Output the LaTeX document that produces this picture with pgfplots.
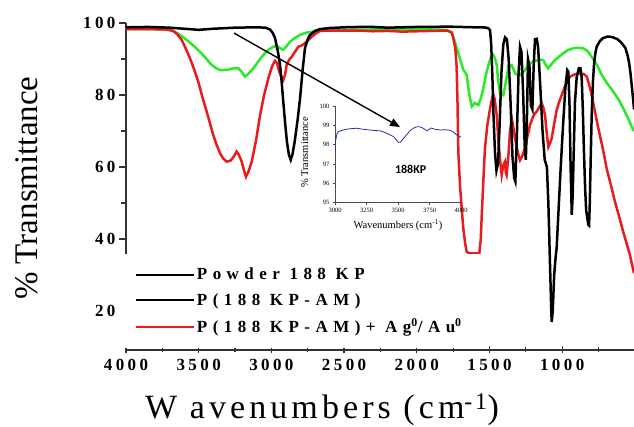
\documentclass[border=0pt]{standalone}
\usepackage{pgfplots}
\usepackage{pgfplotstable}
\pgfplotsset{compat=1.18}
\usetikzlibrary{arrows.meta}
\usepackage{fontspec}
\setmainfont{Liberation Serif}
\newfontfamily\tickfont[LetterSpace=20]{Liberation Serif}
\newfontfamily\legfont[LetterSpace=32]{Liberation Serif}
\newfontfamily\xlabfont[LetterSpace=12]{Liberation Serif}
\newfontfamily\calib{Carlito}
\definecolor{cred}{RGB}{232,28,30}
\definecolor{cgreen}{RGB}{40,235,40}
\definecolor{cblue}{RGB}{40,50,160}

\pgfplotstableread{
wn T
4000 98.8
3850 98.9
3700 98.7
3600 98.4
3500 98.1
3400 98.4
3250 98.7
3100 98.8
3040 98.7
3010 98.2
2990 97.2
2975 95.8
2955 92.0
2941 88.5
2930 84
2920 79
2905 72
2893 67
2880 63.5
2867 62
2855 63.5
2840 67
2820 73
2803 79
2785 87
2769 93
2750 95.5
2734 96.7
2700 97.8
2666 98.3
2600 98.6
2500 98.8
2400 98.9
2300 98.9
2200 98.7
2100 98.8
2000 98.9
1900 98.9
1800 99.0
1700 98.9
1600 98.8
1540 98.8
1510 98.6
1496 98.0
1488 94
1480 85
1472 74
1462 64
1452 59
1441 61
1430 72
1418 86
1405 94
1393 96
1380 95.5
1368 90
1355 78
1342 63
1330 57
1322 56
1312 68
1300 86
1290 93.4
1280 92
1268 80
1258 66
1250 62
1243 72
1235 90
1225 88
1215 77
1205 76
1196 88
1187 95.5
1175 95.6
1165 93
1150 82
1135 70
1120 62
1105 60
1095 50
1085 35
1075 20
1072 17
1065 20
1055 30
1045 35
1038 37.5
1025 48
1010 60
994 71.6
978 82
965 86.9
958 86.5
950 78
942 60
934 46.7
928 52
920 65
912 78
900 85
885 87.5
875 87.5
866 85
858 76
850 64
842 54
835 48
828 46
820 44
815 43.8
810 50
805 60
797 74.4
788 84
780 89
770 92
762 93.5
740 95
720 95.8
690 96.2
671 96.2
650 96
620 95.5
600 94.8
582 94
565 93
550 91
540 89
530 86
520 82
510 78
506 76
}\tblack

\pgfplotstableread{
wn T
4000 98.3
3850 98.3
3720 98.2
3686 98.0
3640 97
3583 95.3
3530 93.5
3491 92.0
3450 90.2
3422 88.8
3390 87.7
3353 86.9
3300 87.0
3262 87.4
3227 87.4
3205 86.5
3182 85.1
3160 85.8
3124 87.4
3090 89.3
3056 91.1
3020 92.6
2987 93.4
2960 93.6
2940 93.0
2918 92.6
2895 93.6
2872 94.8
2840 95.8
2803 96.7
2760 97.3
2714 97.6
2650 97.9
2500 98.1
2300 98.2
2100 98.2
1900 98.2
1792 98.1
1760 97.2
1740 95
1710 91
1680 87
1657 85.6
1640 80.5
1622 76.8
1610 77.3
1600 77.8
1588 77.4
1577 77.2
1560 79
1542 81.9
1525 85.5
1508 88.3
1490 90.5
1474 91.1
1462 90.2
1450 88.3
1440 84
1428 80.5
1415 80.4
1405 80.0
1390 83
1370 87.9
1347 88.3
1335 87.2
1324 86.0
1305 85.6
1290 85.6
1270 86.3
1256 86.9
1230 88.5
1199 89.3
1175 89.6
1150 89.8
1130 89.7
1115 88.5
1096 87.4
1075 88.5
1049 89.7
1020 90.7
992 91.6
960 92.5
923 93.0
890 93.1
855 93.0
825 92.2
797 90.6
760 88.3
728 85.6
690 83.2
648 80.9
610 78.6
580 76.3
550 73.8
522 71.2
506 70.0
}\tgreen

\pgfplotstableread{
wn T
4000 98.3
3850 98.3
3720 98.2
3677 97.8
3650 97
3617 95.3
3590 93
3560 90.2
3530 87
3503 83.7
3475 79.5
3445 75.4
3420 71.8
3400 68.9
3375 66
3353 63.8
3330 62.3
3307 61.5
3280 61.8
3260 62.8
3239 64.3
3225 63.5
3204 61.5
3190 59.3
3175 57.3
3160 58.5
3135 61.5
3105 67.5
3078 74.4
3050 80
3021 84.6
2995 88
2975 89.5
2960 88.8
2953 87.4
2935 85.3
2918 84.2
2905 85.8
2895 88.3
2878 89.8
2860 90.6
2840 91.8
2815 93.4
2790 93.8
2769 94.4
2745 95.3
2723 96.2
2690 97.2
2666 97.8
2600 97.9
2400 97.9
2300 97.7
2200 97.8
2100 97.6
2000 97.7
1900 97.8
1792 97.9
1760 97.4
1751 96.2
1735 93
1726 87.9
1720 78
1714 64
1703 55
1690 48
1680 43
1668 39
1657 36.5
1639 36
1600 36
1570 36
1560 40
1553 46.7
1540 58
1531 65.2
1515 71.5
1496 76.3
1485 78.5
1474 80
1465 79
1450 74.4
1440 68
1428 62.4
1416 57.8
1405 60.5
1393 61.5
1388 58.5
1382 57.8
1370 63
1359 69.8
1347 73.5
1336 71
1324 68
1305 64
1290 61.9
1275 63
1256 65.2
1240 68.3
1221 71.7
1200 74
1187 74.9
1175 75.4
1160 76.5
1141 77.7
1130 76.5
1118 74.4
1105 69
1095 65.6
1085 66.5
1072 68
1055 72
1038 75.8
1020 78.2
1003 80
975 83
946 85.1
910 85.8
877 86
850 85.8
831 85.1
815 83
797 80
775 75.5
751 70.7
720 65
694 59.6
665 55
637 50.4
610 46.5
580 42
555 38.5
534 35.6
520 33
506 30.5
}\tred

\pgfplotstableread{
wn T
3000 97.6
3005 98.2
3015 98.55
3026 98.67
3060 98.75
3093 98.8
3130 98.83
3172 98.85
3220 98.8
3270 98.76
3320 98.73
3357 98.72
3400 98.62
3440 98.5
3463 98.42
3485 98.25
3503 98.12
3520 98.13
3540 98.3
3569 98.52
3600 98.75
3635 98.9
3660 98.93
3675 98.92
3700 98.85
3715 98.78
3730 98.72
3745 98.78
3765 98.86
3790 98.8
3834 98.76
3870 98.77
3900 98.76
3930 98.7
3967 98.5
4000 98.38
}\tblue

\begin{document}
\begin{tikzpicture}
\begin{axis}[
  at={(126pt,77pt)}, anchor=south west,
  scale only axis, width=508pt, height=327pt,
  x dir=reverse, xmin=506, xmax=4000, ymin=9.2, ymax=100,
  axis x line*=bottom, axis y line*=left,
  axis line style={line width=1.2pt, black!80},
  xtick={1000,1500,...,4000}, minor xtick={750,1250,...,3750},
  ytick={20,40,...,100}, minor ytick={30,50,70,90},
  xtick align=center, ytick align=outside,
  major tick length=7pt, minor tick length=5pt,
  every tick/.style={black!80, line width=1.2pt},
  /pgf/number format/assume math mode=true,
  /pgf/number format/1000 sep={},
  tick label style={font=\fontsize{17}{20}\selectfont\tickfont\bfseries},
  xticklabel style={yshift=-2pt},
  xlabel={W avenumbers (cm\textsuperscript{-1})},
  xlabel style={font=\fontsize{34}{40}\selectfont\xlabfont, at={(axis description cs:0.386,-0.183)}, anchor=center},
  ylabel={\% Transmittance},
  ylabel style={font=\fontsize{33}{38}\selectfont, at={(axis description cs:-0.195,0.495)}, anchor=center, rotate=0},
  legend style={at={(axis description cs:-0.0217,0.2936)}, anchor=north west, fill=white, draw=none,
    font=\fontsize{17}{20}\selectfont\legfont\bfseries, inner xsep=20pt, inner ysep=12pt, row sep=8pt},
  legend cell align=left,
  legend image code/.code={\draw[#1] (0pt,0pt) -- (58pt,0pt);},
]
\addplot[cgreen, line width=2.5pt, forget plot] table[x=wn,y=T] {\tgreen};
\addplot[cred, line width=2.5pt, forget plot] table[x=wn,y=T] {\tred};
\addplot[black, line width=2.5pt, forget plot] table[x=wn,y=T] {\tblack};
\draw[-{Triangle[length=10pt,width=8pt]}, line width=1.4pt] (axis cs:3257,97.2) -- (axis cs:2115,71.1);
\addlegendimage{black, line width=1.8pt}
\addlegendentry{Powder 188 KP}
\addlegendimage{black, line width=1.8pt}
\addlegendentry{P(188 KP-AM)}
\addlegendimage{cred, line width=1.8pt}
\addlegendentry{P(188 KP-AM)+ Ag\textsuperscript{0}/Au\textsuperscript{0}}
\end{axis}
\begin{axis}[
  at={(335pt,224.3pt)}, anchor=south west,
  scale only axis, width=126pt, height=96.7pt,
  xmin=3000, xmax=4000, ymin=95, ymax=100,
  axis x line*=bottom, axis y line*=left,
  axis line style={line width=0.5pt, black!70},
  xtick={3000,3250,...,4000}, ytick={95,...,100},
  tick align=outside, major tick length=2pt,
  every tick/.style={black!70, line width=0.5pt},
  /pgf/number format/assume math mode=true,
  /pgf/number format/1000 sep={},
  tick label style={font=\fontsize{6.5}{7}\selectfont},
  xlabel={Wavenumbers (cm\textsuperscript{-1})},
  xlabel style={font=\fontsize{10.5}{12}\selectfont, at={(axis description cs:0.5,-0.23)}, anchor=center},
  ylabel={\% Transmittance},
  ylabel style={font=\fontsize{10.5}{12}\selectfont, at={(axis description cs:-0.24,0.52)}, anchor=center},
]
\addplot[cblue, line width=0.8pt] table[x=wn,y=T] {\tblue};
\node[font=\fontsize{12}{14}\selectfont\calib\bfseries] at (axis cs:3600,96.7) {188KP};
\end{axis}
\pgfresetboundingbox
\useasboundingbox (0,0) rectangle (634pt,427pt);
\end{tikzpicture}
\end{document}
